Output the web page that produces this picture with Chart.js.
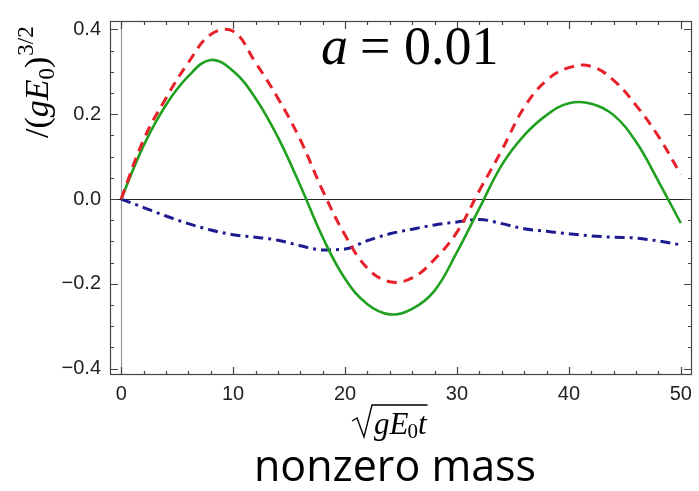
<!DOCTYPE html>
<html>
<head>
<meta charset="utf-8">
<script src="https://cdn.jsdelivr.net/npm/chart.js@4.4.0/dist/chart.umd.min.js"></script>
<style>
  html, body { margin: 0; padding: 0; background: #fff; }
  #wrap { width: 699px; height: 491px; }
</style>
</head>
<body>
<div id="wrap"><canvas id="grafico" width="699" height="491"></canvas></div>
<script>
// time axis (sqrt(gE0) t)
var tiempos = [0, 2, 4, 6, 8, 10, 12, 14, 16, 18, 20, 22, 24, 26, 28, 30, 32, 34, 36, 38, 40, 42, 44, 46, 48, 50];
// red dashed curve
var rojoData = [0, 0.14, 0.238, 0.322, 0.388, 0.396, 0.322, 0.238, 0.14, 0.02, -0.085, -0.163, -0.195, -0.186, -0.142, -0.078, 0.02, 0.115, 0.216, 0.28, 0.31, 0.313, 0.28, 0.221, 0.148, 0.058];
// green solid curve
var verdeData = [0, 0.126, 0.222, 0.29, 0.328, 0.302, 0.238, 0.146, 0.032, -0.09, -0.188, -0.248, -0.272, -0.259, -0.216, -0.125, -0.022, 0.08, 0.15, 0.198, 0.226, 0.225, 0.198, 0.135, 0.042, -0.057];
// blue dash-dot curve
var azulData = [0, -0.02, -0.04, -0.058, -0.073, -0.084, -0.09, -0.097, -0.11, -0.12, -0.118, -0.098, -0.082, -0.071, -0.061, -0.054, -0.048, -0.058, -0.07, -0.076, -0.082, -0.087, -0.09, -0.092, -0.099, -0.108];

var xTicks = [0, 10, 20, 30, 40, 50];
var yTicks = [-0.4, -0.2, 0.0, 0.2, 0.4];

function puntos(ys) {
    return tiempos.map(function (t, i) { return { x: t, y: ys[i] }; });
}

// frame, inward ticks, zero lines and texts (Mathematica look)
var marco = {
    id: 'marco',
    beforeDatasetsDraw: function (chart) {
        var ctx = chart.ctx, a = chart.chartArea;
        var xs = chart.scales.x, ys = chart.scales.y;
        ctx.save();
        // x = 0 gray line
        ctx.strokeStyle = '#9a9a9a';
        ctx.lineWidth = 1.2;
        var x0 = Math.round(xs.getPixelForValue(0)) + 0.5;
        ctx.beginPath(); ctx.moveTo(x0, a.top); ctx.lineTo(x0, a.bottom); ctx.stroke();
        // y = 0 black line
        ctx.strokeStyle = '#222';
        var y0 = Math.round(ys.getPixelForValue(0)) + 0.5;
        ctx.beginPath(); ctx.moveTo(a.left, y0); ctx.lineTo(a.right, y0); ctx.stroke();
        ctx.restore();
    },
    afterDraw: function (chart) {
        var ctx = chart.ctx, a = chart.chartArea;
        var xs = chart.scales.x, ys = chart.scales.y;
        ctx.save();
        ctx.strokeStyle = '#444';
        ctx.lineWidth = 1.2;
        ctx.strokeRect(a.left + 0.5, a.top + 0.5, a.right - a.left - 1, a.bottom - a.top - 1);
        ctx.beginPath();
        // x ticks every 2, major every 10
        for (var v = 0; v <= 50; v += 2) {
            var px = Math.round(xs.getPixelForValue(v)) + 0.5;
            var len = (v % 10 === 0) ? 8 : 4;
            ctx.moveTo(px, a.bottom); ctx.lineTo(px, a.bottom - len);
            ctx.moveTo(px, a.top); ctx.lineTo(px, a.top + len);
        }
        // y ticks every 0.05, major every 0.2
        for (var k = -8; k <= 8; k++) {
            var py = Math.round(ys.getPixelForValue(k * 0.05)) + 0.5;
            var l2 = (k % 4 === 0) ? 8 : 4;
            ctx.moveTo(a.left, py); ctx.lineTo(a.left + l2, py);
            ctx.moveTo(a.right, py); ctx.lineTo(a.right - l2, py);
        }
        ctx.stroke();

        ctx.fillStyle = '#000';
        ctx.textBaseline = 'alphabetic';
        // annotation a = 0.01
        ctx.font = 'italic 54px "Liberation Serif"';
        ctx.fillText('a', 321, 64);
        ctx.font = '54px "Liberation Serif"';
        ctx.fillText('= 0.01', 360, 64);

        // y axis title, rotated
        ctx.save();
        ctx.translate(48, 138);
        ctx.rotate(-Math.PI / 2);
        var x = 0;
        function trozo(txt, font, dy) {
            ctx.font = font;
            ctx.fillText(txt, x, dy);
            x += ctx.measureText(txt).width;
        }
        trozo('/(', '34px "Liberation Serif"', 0);
        trozo('g', 'italic 34px "Liberation Serif"', 0);
        trozo('E', 'italic 34px "Liberation Serif"', 0);
        trozo('0', '23px "Liberation Serif"', 6);
        trozo(')', '34px "Liberation Serif"', 0);
        x += 1;
        trozo('3/2', '23px "Liberation Serif"', -15);
        ctx.restore();

        // x axis title: sqrt(g E0) t
        var bx = 352, base = 434;
        ctx.font = 'italic 31px "Liberation Serif"';
        var xx = bx + 22;
        ctx.fillText('g', xx, base); xx += ctx.measureText('g').width;
        ctx.fillText('E', xx, base); xx += ctx.measureText('E').width;
        ctx.font = '21px "Liberation Serif"';
        ctx.fillText('0', xx - 1, base + 4); xx += ctx.measureText('0').width - 1;
        ctx.font = 'italic 31px "Liberation Serif"';
        ctx.fillText('t', xx, base); xx += ctx.measureText('t').width;
        ctx.lineWidth = 1.4;
        ctx.strokeStyle = '#000';
        ctx.beginPath();
        ctx.moveTo(bx, base - 13);
        ctx.lineTo(bx + 5, base - 16);
        ctx.lineTo(bx + 12, base + 3);
        ctx.lineTo(bx + 20, base - 29);
        ctx.lineTo(xx + 1, base - 29);
        ctx.stroke();

        // caption
        ctx.font = '43px "Open Sans"';
        ctx.textAlign = 'center';
        ctx.fillText('nonzero mass', 395, 481);
        ctx.restore();
    }
};

var ctx1 = document.getElementById('grafico').getContext('2d');
var grafico = new Chart(ctx1, {
    type: 'line',
    data: {
        datasets: [{
            label: 'rojo',
            data: puntos(rojoData),
            borderColor: '#e8202a',
            borderWidth: 3,
            borderDash: [10, 7],
            pointRadius: 0,
            tension: 0.4,
            fill: false
        }, {
            label: 'verde',
            data: puntos(verdeData),
            borderColor: '#1fa01f',
            borderWidth: 2.6,
            pointRadius: 0,
            tension: 0.4,
            fill: false
        }, {
            label: 'azul',
            data: puntos(azulData),
            borderColor: '#1c1c90',
            borderWidth: 3,
            borderDash: [10, 5, 3, 5],
            pointRadius: 0,
            cubicInterpolationMode: 'monotone',
            fill: false
        }]
    },
    options: {
        responsive: false,
        animation: false,
        layout: { padding: { left: 0, right: 3, top: 14, bottom: 0 } },
        plugins: {
            legend: { display: false },
            tooltip: { enabled: false }
        },
        scales: {
            x: {
                type: 'linear',
                min: -1,
                max: 51,
                afterBuildTicks: function (s) { s.ticks = xTicks.map(function (v) { return { value: v }; }); },
                afterFit: function (s) { s.height = 116; },
                grid: { display: false, drawTicks: false },
                border: { display: false },
                ticks: {
                    color: '#222',
                    padding: 7,
                    maxRotation: 0,
                    font: { family: '"Liberation Sans"', size: 20 }
                }
            },
            y: {
                min: -0.415,
                max: 0.42,
                afterBuildTicks: function (s) { s.ticks = yTicks.map(function (v) { return { value: v }; }); },
                afterFit: function (s) { s.width = 110; },
                grid: { display: false, drawTicks: false },
                border: { display: false },
                ticks: {
                    color: '#222',
                    padding: 9,
                    font: { family: '"Liberation Sans"', size: 20 },
                    callback: function (v) {
                        var t = Math.abs(v).toFixed(1);
                        return v < -0.001 ? '\u2212' + t : t;
                    }
                }
            }
        }
    },
    plugins: [marco]
});
</script>
</body>
</html>
